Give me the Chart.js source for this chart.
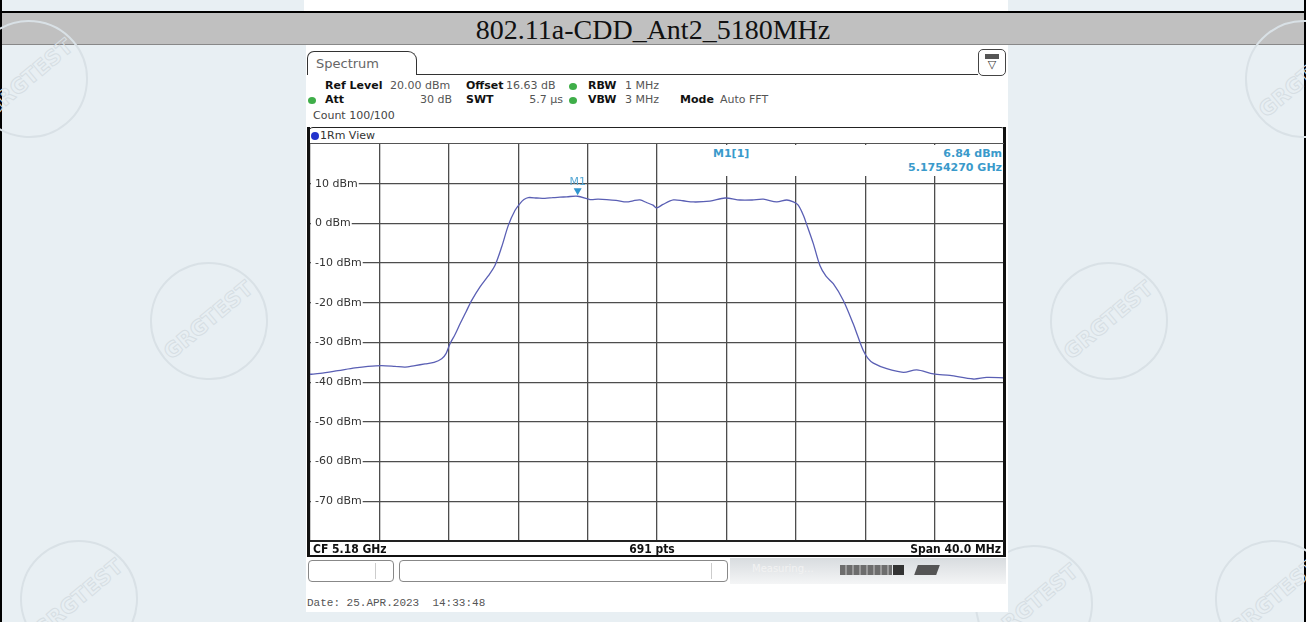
<!DOCTYPE html>
<html>
<head>
<meta charset="utf-8">
<script src="https://cdn.jsdelivr.net/npm/chart.js@4.4.0/dist/chart.umd.min.js"></script>
<style>
body { margin:0; width:1306px; height:622px; position:relative; overflow:hidden; background:#e8eff3; font-family:"DejaVu Sans", sans-serif; }
.a { position:absolute; white-space:nowrap; }
.stamp { position:absolute; width:118px; height:118px; border:2px solid #d9e1e6; border-radius:50%; transform:rotate(-40deg); box-sizing:border-box; }
.stamp span { position:absolute; left:0; right:0; top:44px; text-align:center; font:bold 21px "DejaVu Sans"; color:transparent; -webkit-text-stroke:1px #d6dee3; }
.lbl { font-size:11px; font-weight:bold; color:#111; }
.val { font-size:11px; color:#555; }
.dot { position:absolute; width:8px; height:7px; border-radius:50%; background:#3fae49; }
.bar { font:bold 12px "DejaVu Sans Condensed", "DejaVu Sans", sans-serif; color:#111; }
.mk { font:bold 11px "DejaVu Sans", sans-serif; color:#3a9acb; }
</style>
</head>
<body>
<!-- previous table row remnant -->
<div class="a" style="left:304px;top:0;width:704px;height:11px;background:#fff"></div>
<div class="a" style="left:0;top:11px;width:1306px;height:2px;background:#000"></div>
<div class="a" style="left:0;top:13px;width:1306px;height:31px;background:#c0c0c0"></div>
<div class="a" style="left:0;top:13px;width:1306px;text-align:center;font:28px 'Liberation Serif', serif;line-height:34px;color:#111">802.11a-CDD_Ant2_5180MHz</div>
<div class="a" style="left:0;top:44px;width:1306px;height:1px;background:#888"></div>
<div class="a" style="left:0;top:0;width:2px;height:622px;background:#000"></div>
<div class="a" style="left:1304px;top:0;width:2px;height:622px;background:#000"></div>

<!-- watermarks -->
<div class="stamp" style="left:-30px;top:20px"><span>GRGTEST</span></div>
<div class="stamp" style="left:150px;top:262px"><span>GRGTEST</span></div>
<div class="stamp" style="left:1050px;top:262px"><span>GRGTEST</span></div>
<div class="stamp" style="left:1245px;top:20px"><span>GRGTEST</span></div>
<div class="stamp" style="left:20px;top:540px"><span>GRGTEST</span></div>
<div class="stamp" style="left:1215px;top:540px"><span>GRGTEST</span></div>
<div class="stamp" style="left:975px;top:545px"><span>GRGTEST</span></div>

<!-- analyzer screenshot -->
<div class="a" style="left:306px;top:45px;width:702px;height:567px;background:#fff"></div>
<div class="a" style="left:307px;top:51px;width:110px;height:24px;border:1px solid #333;border-bottom:none;border-radius:7px 9px 0 0;box-sizing:border-box"></div>
<div class="a" style="left:316px;top:56px;font-size:13px;color:#666">Spectrum</div>
<div class="a" style="left:416px;top:74px;width:562px;height:1px;background:#333"></div>
<div class="a" style="left:978px;top:49px;width:28px;height:27px;border:1px solid #444;border-radius:5px;box-sizing:border-box;text-align:center;font-size:11px;line-height:12px;color:#333"><div style="margin:4px auto 0;width:14px;height:5px;background:#555"></div>▽</div>

<div class="a lbl" style="left:325px;top:79px">Ref Level</div>
<div class="a val" style="left:390px;top:79px">20.00 dBm</div>
<div class="a lbl" style="left:466px;top:79px">Offset</div>
<div class="a val" style="left:506px;top:79px">16.63 dB</div>
<div class="dot" style="left:569px;top:83px"></div>
<div class="a lbl" style="left:588px;top:79px">RBW</div>
<div class="a val" style="left:625px;top:79px">1 MHz</div>

<div class="dot" style="left:308px;top:97px"></div>
<div class="a lbl" style="left:325px;top:93px">Att</div>
<div class="a val" style="left:400px;top:93px;width:52px;text-align:right">30 dB</div>
<div class="a lbl" style="left:466px;top:93px">SWT</div>
<div class="a val" style="left:510px;top:93px;width:53px;text-align:right">5.7 µs</div>
<div class="dot" style="left:569px;top:97px"></div>
<div class="a lbl" style="left:588px;top:93px">VBW</div>
<div class="a val" style="left:625px;top:93px">3 MHz</div>
<div class="a lbl" style="left:680px;top:93px">Mode</div>
<div class="a val" style="left:720px;top:93px">Auto FFT</div>
<div class="a val" style="left:313px;top:109px;color:#444">Count 100/100</div>

<div class="a" style="left:308px;top:127px;width:698px;height:430px;border:1px solid #222;border-radius:5px;box-sizing:border-box"></div>
<div class="a" style="left:311px;top:132px;width:8px;height:8px;border-radius:50%;background:#2233cc"></div>
<div class="a" style="left:320px;top:129px;font-size:11px;color:#333">1Rm View</div>

<div class="a" style="left:310px;top:144px;width:694px;height:397px">
  <canvas id="spec" width="694" height="397"></canvas>
</div>
<!-- plot frame -->
<div class="a" style="left:307px;top:127px;width:3px;height:430px;background:#111"></div>
<div class="a" style="left:1003px;top:127px;width:3px;height:430px;background:#111"></div>
<div class="a" style="left:310px;top:143px;width:694px;height:1px;background:#555"></div>
<div class="a" style="left:310px;top:540px;width:694px;height:2px;background:#222"></div>
<div class="a" style="left:307px;top:555px;width:699px;height:2px;background:#111"></div>

<!-- marker readout -->
<div class="a" style="left:690px;top:145px;width:313px;height:31px;background:#fff"></div>
<div class="a mk" style="left:713px;top:147px">M1[1]</div>
<div class="a mk" style="left:880px;top:147px;width:122px;text-align:right">6.84 dBm</div>
<div class="a mk" style="left:880px;top:161px;width:122px;text-align:right">5.1754270 GHz</div>

<div class="a bar" style="left:313px;top:542px">CF 5.18 GHz</div>
<div class="a bar" style="left:600px;top:542px;width:104px;text-align:center">691 pts</div>
<div class="a bar" style="left:880px;top:542px;width:121px;text-align:right">Span 40.0 MHz</div>

<!-- status bar -->
<div class="a" style="left:308px;top:560px;width:86px;height:22px;border:1px solid #888;border-radius:4px;box-sizing:border-box"></div>
<div class="a" style="left:375px;top:563px;width:1px;height:16px;background:#ccc"></div>
<div class="a" style="left:399px;top:560px;width:329px;height:22px;border:1px solid #888;border-radius:4px;box-sizing:border-box"></div>
<div class="a" style="left:711px;top:563px;width:1px;height:16px;background:#ccc"></div>
<div class="a" style="left:730px;top:558px;width:276px;height:26px;background:linear-gradient(#d8dcdf,#f4f5f6)"></div>
<div class="a" style="left:752px;top:563px;font-size:10px;color:#f2f2f2">Measuring...</div>
<div class="a" style="left:840px;top:565px;width:52px;height:10px;background:repeating-linear-gradient(90deg,#6d6d6d 0 5px,#9a9a9a 5px 7px)"></div>
<div class="a" style="left:893px;top:565px;width:11px;height:10px;background:#333"></div>
<div class="a" style="left:916px;top:565px;width:22px;height:10px;background:#555;transform:skewX(-20deg)"></div>

<div class="a" style="left:307px;top:597px;font:11px 'Liberation Mono', monospace;color:#555">Date: 25.APR.2023&nbsp; 14:33:48</div>

<script>
// trace: offset from 5.18 GHz (MHz) and level (dBm)
var freqMHz = [-20.0, -19.42, -18.39, -17.41, -16.66, -15.87, -15.10, -14.52, -13.95, -13.37,
  -12.85, -12.41, -12.16, -11.93, -11.64, -11.35, -11.01, -10.68, -10.20, -9.74,
  -9.34, -8.95, -8.57, -8.18, -7.90, -7.67, -7.42, -6.93, -6.46, -6.00,
  -5.59, -5.20, -4.57, -3.86, -3.40, -2.90, -2.36, -1.75, -1.38, -0.98,
  -0.58, -0.23, -0.02, 0.35, 0.94, 1.50, 2.09, 3.05, 3.92, 4.78,
  5.48, 6.13, 6.90, 7.48, 7.86, 8.14, 8.43, 8.63, 9.01, 9.39,
  9.74, 10.16, 10.74, 11.31, 11.58, 11.89, 12.16, 12.47, 13.24, 14.20,
  14.97, 15.93, 16.89, 18.23, 19.00, 20.0];
var levelDbm = [-38.0, -37.8, -37.1, -36.4, -36.0, -35.8, -36.0, -36.2, -35.8, -35.4,
  -35.0, -34.1, -32.8, -30.3, -28.0, -25.3, -22.3, -19.4, -16.0, -13.3,
  -10.6, -5.9, -0.5, 3.3, 5.0, 6.0, 6.5, 6.4, 6.3, 6.5,
  6.6, 6.7, 6.84, 6.0, 6.1, 6.0, 5.8, 5.4, 5.7, 5.9,
  5.2, 4.6, 3.9, 4.8, 5.9, 5.7, 5.4, 5.6, 6.4, 5.9,
  5.9, 6.1, 5.4, 5.9, 5.4, 4.6, 2.1, -0.3, -5.1, -10.6,
  -13.3, -15.2, -19.4, -25.3, -28.5, -32.0, -34.0, -35.2, -36.6, -37.5,
  -36.9, -37.9, -38.3, -39.2, -38.8, -38.9];
var markerFreq = [-4.573];
var markerLevel = [6.84];
var markerName = ['M1'];

var points = freqMHz.map(function (f, i) { return { x: f, y: levelDbm[i] }; });

var markerPlugin = {
  id: 'marker',
  afterDatasetsDraw: function (chart) {
    var c = chart.ctx, xs = chart.scales.x, ys = chart.scales.y;
    c.save();
    for (var i = 0; i < markerFreq.length; i++) {
      var px = xs.getPixelForValue(markerFreq[i]);
      var py = ys.getPixelForValue(markerLevel[i]);
      c.fillStyle = '#2f95cf';
      c.beginPath();
      c.moveTo(px, py - 1);
      c.lineTo(px - 4, py - 8);
      c.lineTo(px + 4, py - 8);
      c.closePath();
      c.fill();
      c.font = '11px "DejaVu Sans"';
      c.fillStyle = '#5aaad6';
      c.textAlign = 'center';
      c.textBaseline = 'bottom';
      c.fillText(markerName[i], px, py - 9);
    }
    c.restore();
  }
};

var ctx = document.getElementById('spec').getContext('2d');
var chart = new Chart(ctx, {
  type: 'line',
  data: {
    datasets: [{
      data: points,
      borderColor: '#5a5fb4',
      borderWidth: 1.3,
      pointRadius: 0,
      tension: 0.3,
      fill: false
    }]
  },
  options: {
    responsive: false,
    animation: false,
    events: [],
    layout: { padding: 0 },
    plugins: { legend: { display: false }, tooltip: { enabled: false } },
    scales: {
      x: {
        type: 'linear', min: -20, max: 20,
        ticks: { display: false, stepSize: 4 },
        grid: { color: '#4d4d4d', lineWidth: 1.3, drawTicks: false },
        border: { display: false },
        afterFit: function (s) { s.paddingLeft = 0; s.paddingRight = 0; s.height = 0; }
      },
      y: {
        min: -80, max: 20,
        ticks: {
          stepSize: 10, mirror: true, padding: 5,
          color: '#333', font: { family: 'DejaVu Sans', size: 11 },
          showLabelBackdrop: true, backdropColor: '#fff',
          backdropPadding: { left: 4, right: 1, top: 2, bottom: 2 },
          callback: function (v) { return v + ' dBm'; }
        },
        afterBuildTicks: function (s) { s.ticks = s.ticks.filter(function (t) { return t.value > -80 && t.value < 20; }); },
        grid: { color: '#4d4d4d', lineWidth: 1.3, drawTicks: false },
        border: { display: false },
        afterFit: function (s) { s.paddingTop = 0; s.paddingBottom = 0; s.width = 0; }
      }
    }
  },
  plugins: [markerPlugin]
});
</script>
</body>
</html>
